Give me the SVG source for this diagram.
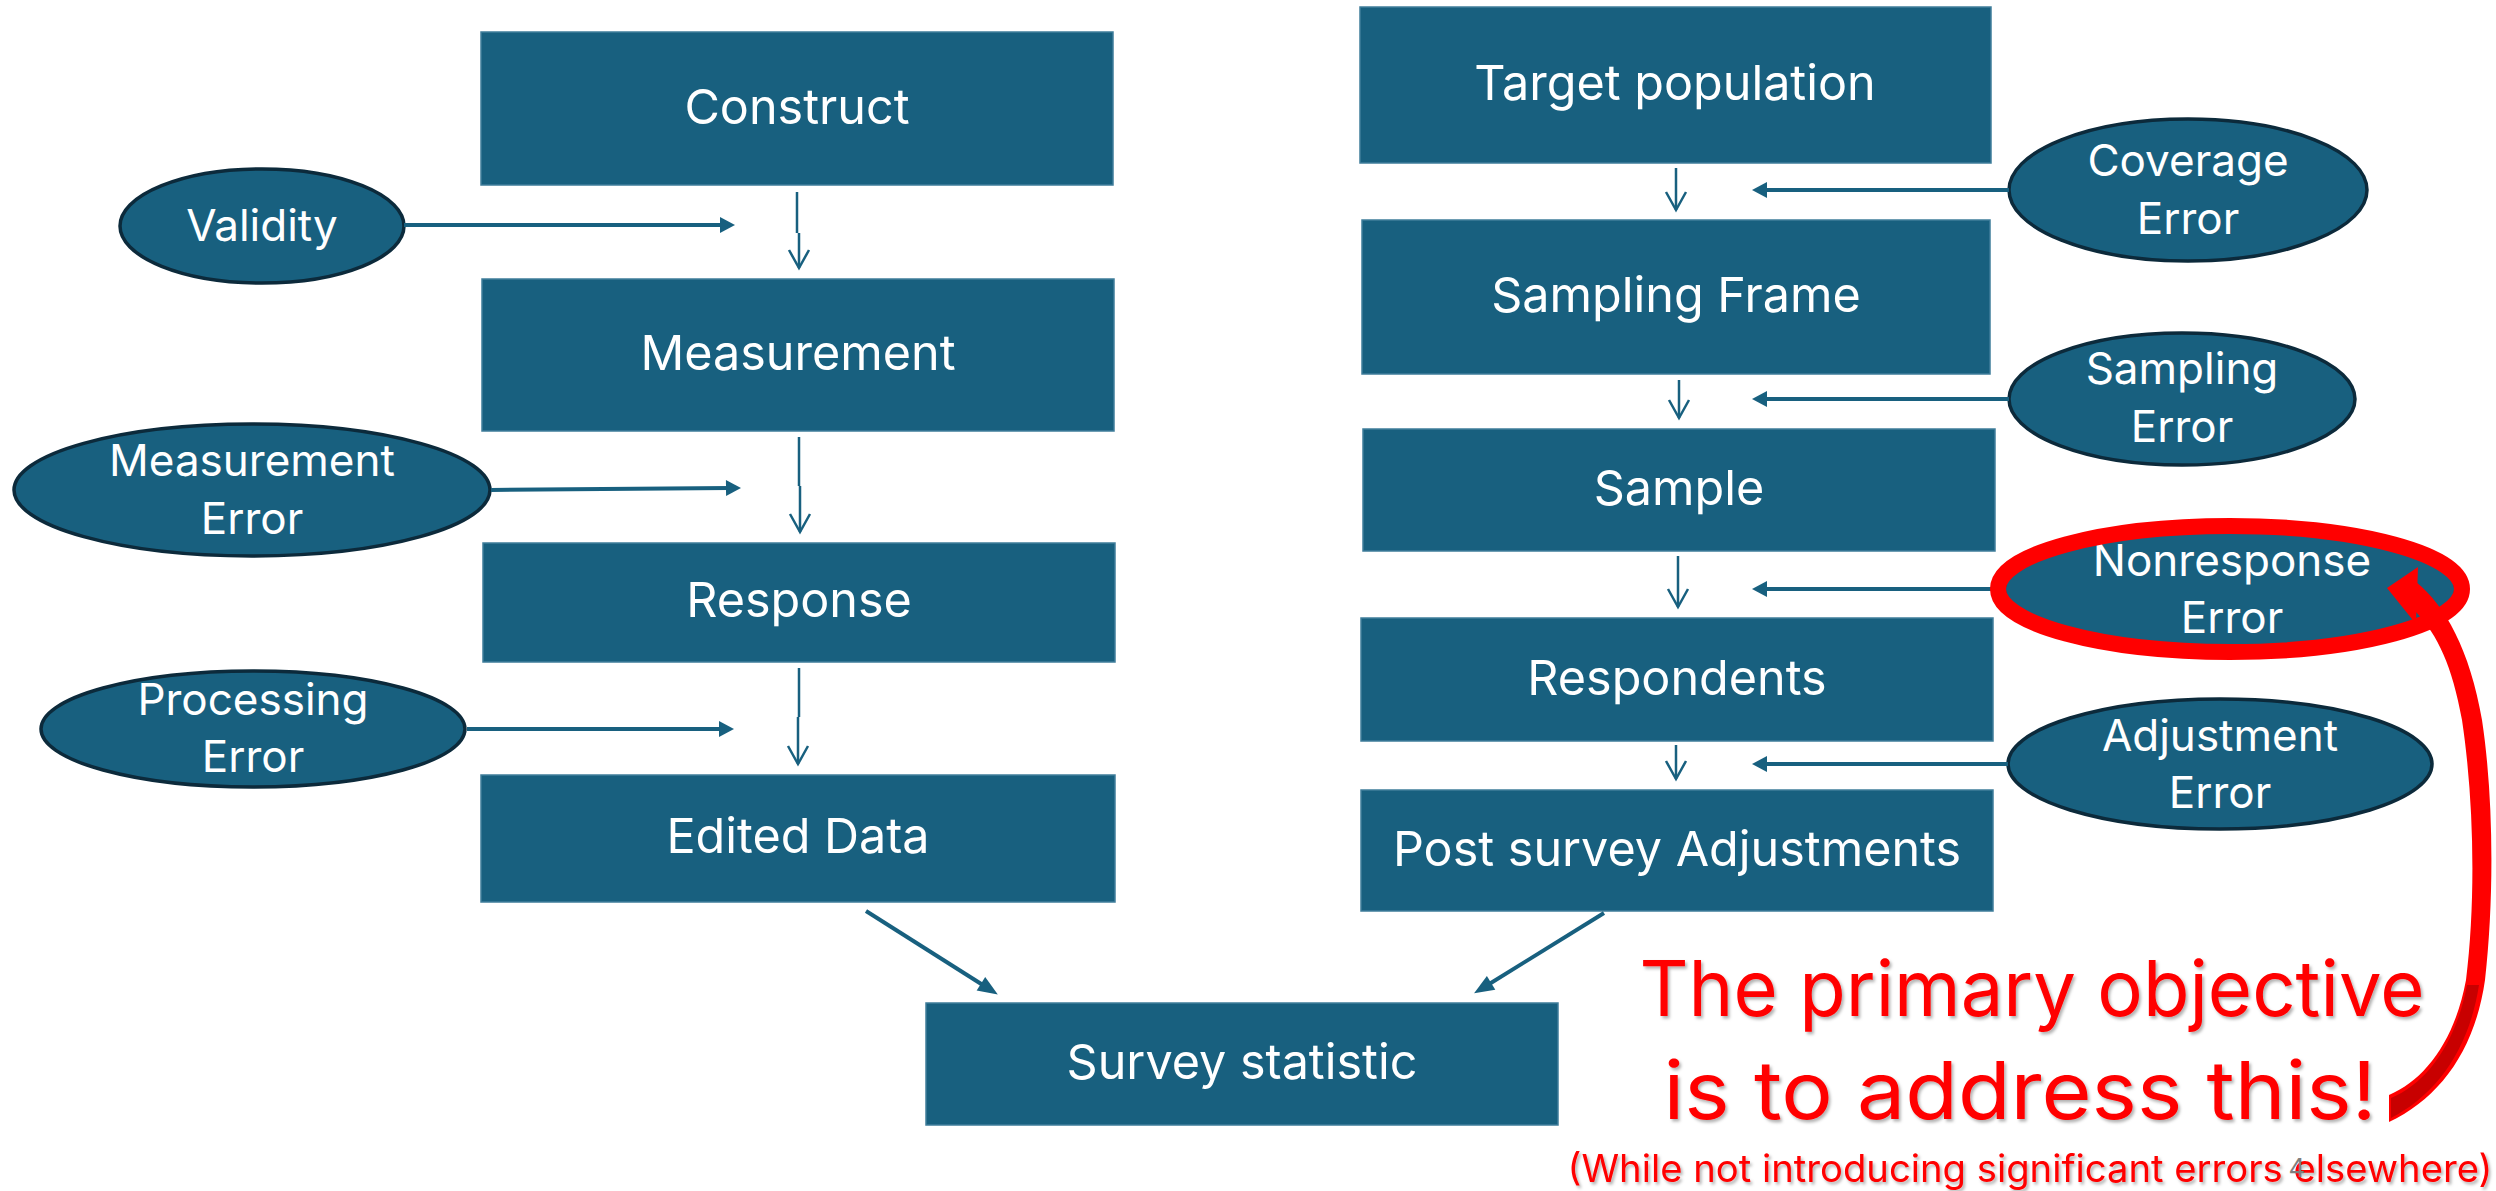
<svg xmlns="http://www.w3.org/2000/svg" width="2496" height="1191" viewBox="0 0 2496 1191">
  <style>
    .box { fill: #18607f; stroke: #3f7d9b; stroke-width: 1.5; }
    .err { fill: #18607f; stroke: #0c2a3b; stroke-width: 3.5; }
    .lbl { fill: #ffffff; font-family: Inter, "Noto Sans", "Liberation Sans", sans-serif; font-size: 48.5px; text-anchor: middle; }
    .elbl { fill: #ffffff; font-family: Inter, "Noto Sans", "Liberation Sans", sans-serif; font-size: 44px; text-anchor: middle; }
    .flow { fill: none; stroke: #18607f; stroke-width: 2.5; marker-end: url(#vhead); }
    .feed { fill: none; stroke: #18607f; stroke-width: 4; marker-end: url(#fhead); }
    .merge { fill: none; stroke: #18607f; stroke-width: 4; marker-end: url(#dhead); }
    .note { fill: #ff0000; font-family: Inter, "Noto Sans", "Liberation Sans", sans-serif; text-anchor: middle; filter: url(#shadow); }
  </style>
  <defs>
    <marker id="vhead" markerUnits="userSpaceOnUse" markerWidth="40" markerHeight="40" refX="0" refY="0" orient="auto" overflow="visible">
      <path d="M-18,-10 L0,0 L-18,10" fill="none" stroke="#18607f" stroke-width="2.5"/>
    </marker>
    <marker id="fhead" markerUnits="userSpaceOnUse" markerWidth="40" markerHeight="40" refX="4" refY="0" orient="auto" overflow="visible">
      <path d="M0,-8 L15,0 L0,8 Z" fill="#18607f"/>
    </marker>
    <marker id="dhead" markerUnits="userSpaceOnUse" markerWidth="40" markerHeight="40" refX="6" refY="0" orient="auto" overflow="visible">
      <path d="M0,-8 L20,0 L0,8 Z" fill="#18607f"/>
    </marker>
    <filter id="shadow" x="-5%" y="-20%" width="110%" height="140%">
      <feDropShadow dx="2" dy="2.5" stdDeviation="1.5" flood-color="#000000" flood-opacity="0.3"/>
    </filter>
  </defs>

  <rect width="2496" height="1191" fill="#ffffff"/>

  <!-- measurement side -->
  <g id="construct"><rect class="box" x="481" y="32" width="632" height="153"/><text class="lbl" x="797" y="124">Construct</text></g>
  <g id="measurement"><rect class="box" x="482" y="279" width="632" height="152"/><text class="lbl" x="798" y="370">Measurement</text></g>
  <g id="response"><rect class="box" x="483" y="543" width="632" height="119"/><text class="lbl" x="799" y="617">Response</text></g>
  <g id="edited-data"><rect class="box" x="481" y="775" width="634" height="127"/><text class="lbl" x="798" y="853">Edited Data</text></g>

  <!-- representation side -->
  <g id="target-population"><rect class="box" x="1360" y="7" width="631" height="156"/><text class="lbl" x="1675" y="100">Target population</text></g>
  <g id="sampling-frame"><rect class="box" x="1362" y="220" width="628" height="154"/><text class="lbl" x="1676" y="312">Sampling Frame</text></g>
  <g id="sample"><rect class="box" x="1363" y="429" width="632" height="122"/><text class="lbl" x="1679" y="505">Sample</text></g>
  <g id="respondents"><rect class="box" x="1361" y="618" width="632" height="123"/><text class="lbl" x="1677" y="695">Respondents</text></g>
  <g id="post-survey-adjustments"><rect class="box" x="1361" y="790" width="632" height="121"/><text class="lbl" x="1677" y="866">Post survey Adjustments</text></g>

  <g id="survey-statistic"><rect class="box" x="926" y="1003" width="632" height="122"/><text class="lbl" x="1242" y="1079">Survey statistic</text></g>

  <!-- error sources -->
  <g id="validity"><ellipse class="err" cx="262" cy="226" rx="142" ry="57"/><text class="elbl" x="262" y="241">Validity</text></g>
  <g id="measurement-error"><ellipse class="err" cx="252" cy="490" rx="238" ry="66"/><text class="elbl" x="252" y="476">Measurement</text><text class="elbl" x="252" y="534">Error</text></g>
  <g id="processing-error"><ellipse class="err" cx="253" cy="729" rx="212" ry="58"/><text class="elbl" x="253" y="715">Processing</text><text class="elbl" x="253" y="772">Error</text></g>
  <g id="coverage-error"><ellipse class="err" cx="2188" cy="190" rx="179" ry="71"/><text class="elbl" x="2188" y="176">Coverage</text><text class="elbl" x="2188" y="234">Error</text></g>
  <g id="sampling-error"><ellipse class="err" cx="2182" cy="399" rx="173" ry="66"/><text class="elbl" x="2182" y="384">Sampling</text><text class="elbl" x="2182" y="442">Error</text></g>
  <g id="nonresponse-error"><ellipse class="err" cx="2230" cy="589" rx="226" ry="62"/><text class="elbl" x="2232" y="576">Nonresponse</text><text class="elbl" x="2232" y="633">Error</text></g>
  <g id="adjustment-error"><ellipse class="err" cx="2220" cy="764" rx="212" ry="65"/><text class="elbl" x="2220" y="751">Adjustment</text><text class="elbl" x="2220" y="808">Error</text></g>

  <!-- connectors -->
  <g id="connectors">
    <path class="flow" d="M797,192 V233 M799,233 V268"/>
    <path class="flow" d="M799,437 V486 M800,486 V532"/>
    <path class="flow" d="M799,668 V717 M798,717 V764"/>
    <path class="flow" d="M1676,168 V210"/>
    <path class="flow" d="M1679,380 V418"/>
    <path class="flow" d="M1678,556 V607"/>
    <path class="flow" d="M1676,745 V779"/>

    <path class="feed" d="M404,225 H724"/>
    <path class="feed" d="M491,490 L730,488"/>
    <path class="feed" d="M467,729 H723"/>
    <path class="feed" d="M2009,190 H1763"/>
    <path class="feed" d="M2009,399 H1763"/>
    <path class="feed" d="M2004,589 H1763"/>
    <path class="feed" d="M2008,764 H1763"/>

    <path class="merge" d="M866,911 L986,987"/>
    <path class="merge" d="M1604,913 L1486,986"/>
  </g>

  <!-- highlight of the nonresponse source -->
  <g id="highlight">
    <ellipse cx="2230" cy="589" rx="232" ry="63" fill="none" stroke="#ff0000" stroke-width="16"/>
    <path d="M2416,582 C2445,605 2470,650 2482,720 C2494,800 2494,900 2485,980 C2475,1050 2440,1098 2389,1122 L2389,1095 C2425,1080 2455,1040 2466,980 C2476,900 2474,800 2462,720 C2452,665 2438,636 2416,612 Z" fill="#ff0000"/>
    <path d="M2391,1098 C2427,1083 2456,1043 2467,985 L2479,985 C2469,1050 2436,1095 2391,1118 Z" fill="#c80000"/>
    <polygon points="2387,588 2418,567 2416,624" fill="#ff0000"/>
  </g>

  <g id="message">
    <text class="note" x="2032" y="1016" font-size="77" textLength="785" lengthAdjust="spacingAndGlyphs">The primary objective</text>
    <text class="note" x="2020" y="1119" font-size="80" textLength="713" lengthAdjust="spacingAndGlyphs">is to address this!</text>
    <text class="note" x="2030" y="1182" font-size="38" textLength="925" lengthAdjust="spacingAndGlyphs">(While not introducing significant errors elsewhere)</text>
    <text x="2297" y="1177" font-family="Inter, 'Noto Sans', 'Liberation Sans', sans-serif" font-size="26" fill="#7f7f7f" text-anchor="middle">4</text>
  </g>
</svg>
